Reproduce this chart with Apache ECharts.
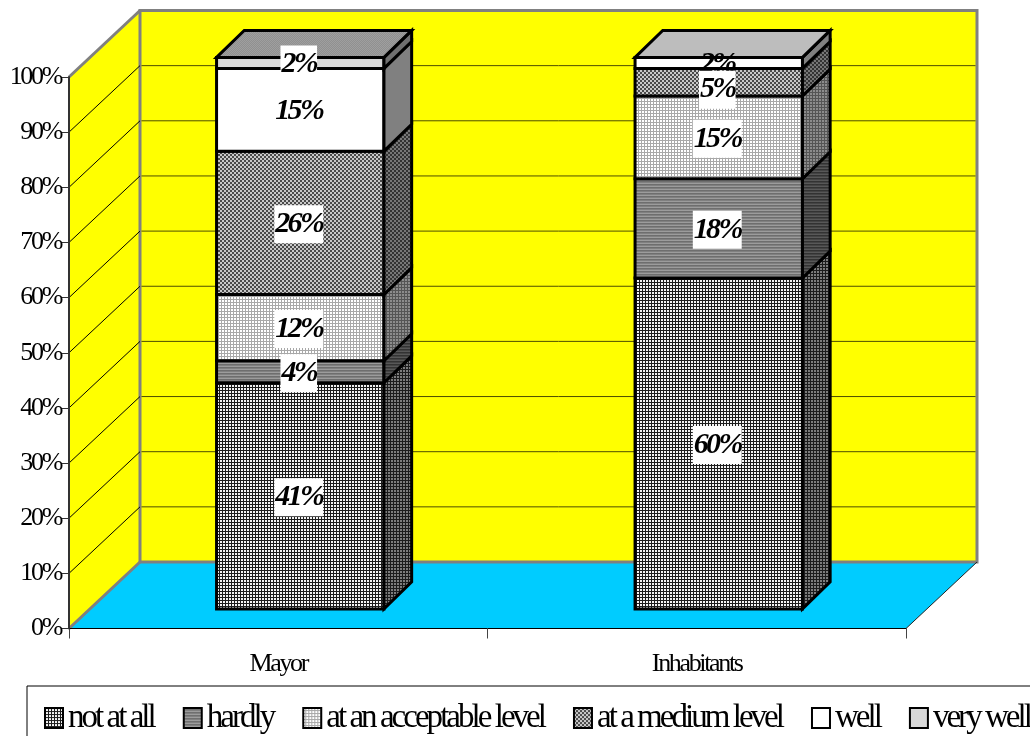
<!DOCTYPE html>
<html>
<head>
<meta charset="utf-8">
<style>html,body{margin:0;padding:0;background:#fff}#chart{width:1030px;height:736px}</style>
<script src="https://cdn.jsdelivr.net/npm/echarts@6/dist/echarts.min.js"></script>
</head>
<body>
<div id="chart"></div>
<script>
var categories = ['Mayor', 'Inhabitants'];
var levelNames = ['not at all', 'hardly', 'at an acceptable level', 'at a medium level', 'well', 'very well'];
var notAtAll = [41, 60];
var hardly = [4, 18];
var acceptable = [12, 15];
var medium = [26, 5];
var well = [15, 2];
var veryWell = [2, 0];
var yTicks = [10, 20, 30, 40, 50, 60, 70, 80, 90, 100];

// Tight text spacing, like the original's squeezed serif type.
var origGetContext = HTMLCanvasElement.prototype.getContext;
HTMLCanvasElement.prototype.getContext = function (type, o) {
  var ctx = origGetContext.call(this, type, o);
  if (type === '2d' && ctx && 'letterSpacing' in ctx) { ctx.letterSpacing = '-0.09em'; }
  return ctx;
};

function tile(rows, pal) {
  var c = document.createElement('canvas');
  c.width = rows[0].length; c.height = rows.length;
  var g = c.getContext('2d');
  rows.forEach(function (r, y) {
    r.split('').forEach(function (ch, x) { g.fillStyle = pal[ch]; g.fillRect(x, y, 1, 1); });
  });
  return { image: c, repeat: 'repeat' };
}
var check = ['kkww', 'kkww', 'wwkk', 'wwkk'];
var faces = [
  { front: tile(['kkk', 'kww', 'kww'], { k: '#1c1c1c', w: '#f4f4f4' }), side: tile(['kkk', 'kww', 'kww'], { k: '#1c1c1c', w: '#7c7c7c' }) },
  { front: tile(['a', 'b', 'c'], { a: '#9c9c9c', b: '#6e6e6e', c: '#808080' }), side: tile(['a', 'b', 'c'], { a: '#585858', b: '#333', c: '#444' }) },
  { front: tile(['wwg', 'wwg', 'ggg'], { w: '#fff', g: '#a8a8a8' }), side: tile(['mmd', 'mmd', 'ddd'], { m: '#8c8c8c', d: '#555' }) },
  { front: tile(check, { k: '#4a4a4a', w: '#c8c8c8' }), side: tile(check, { k: '#333333', w: '#777777' }) },
  { front: '#ffffff', side: '#808080' },
  { front: '#d8d8d8', side: '#707070' }
];
var topFaces = [tile(['ab', 'ba'], { a: '#9f9f9f', b: '#909090' }), '#bdbdbd'];

var WALL_DX = 71, WALL_DY = 66.5, GRAY = '#808080';
var BAR_NEAR_X = 0.31, BAR_NEAR_Y = 0.295, BAR_FAR = 0.70, BAR_WIDTH = 0.4;
var valueSets = [notAtAll, hardly, acceptable, medium, well, veryWell];

function line(p, q, color, w) {
  return { type: 'line', shape: { x1: p[0], y1: p[1], x2: q[0], y2: q[1] }, style: { stroke: color, lineWidth: w }, silent: true };
}
function poly(points, fill, stroke, w) {
  return { type: 'polygon', shape: { points: points }, style: { fill: fill, stroke: stroke, lineWidth: w, lineJoin: 'miter' }, silent: true };
}

function renderWalls(params, api) {
  var band = api.size([1, 0])[0];
  var base = api.coord([0, 0]);
  var x0 = base[0] - band / 2, x1 = x0 + band * categories.length;
  var y0 = base[1], yT = api.coord([0, 100])[1];
  var bx0 = x0 + WALL_DX, bx1 = x1 + WALL_DX;
  var children = [];
  if (params.dataIndex === 0) {
    children.push(poly([[x0, y0], [bx0, y0 - WALL_DY], [bx1, y0 - WALL_DY], [x1, y0]], '#00ccff', null, 0));
    children.push(poly([[x0, y0], [bx0, y0 - WALL_DY], [bx0, yT - WALL_DY], [x0, yT]], '#ffff00', null, 0));
    children.push(poly([[bx0, y0 - WALL_DY], [bx1, y0 - WALL_DY], [bx1, yT - WALL_DY], [bx0, yT - WALL_DY]], '#ffff00', GRAY, 3));
    children.push(line([x0, y0], [bx0, y0 - WALL_DY], GRAY, 3));
    children.push(line([x0, yT], [bx0, yT - WALL_DY], GRAY, 3));
    children.push(line([x1, y0], [bx1, y0 - WALL_DY], '#222', 1));
  }
  var v = api.value(1);
  if (v < 100) {
    var y = api.coord([0, v])[1];
    children.push(line([x0, y], [bx0, y - WALL_DY], '#000', 1));
    children.push(line([bx0 + 1.5, y - WALL_DY], [bx1 - 1.5, y - WALL_DY], '#4d4d00', 1));
  }
  return { type: 'group', children: children };
}

function renderLevel(level) {
  return function (params, api) {
    var cat = api.value(0), a = api.value(1), b = api.value(2);
    if (b <= a) { return { type: 'group', children: [] }; }
    var band = api.size([1, 0])[0];
    var c0 = api.coord([cat, a]), c1 = api.coord([cat, b]);
    var ox = WALL_DX * BAR_NEAR_X, oy = WALL_DY * BAR_NEAR_Y;
    var dx = WALL_DX * (BAR_FAR - BAR_NEAR_X), dy = WALL_DY * (BAR_FAR - BAR_NEAR_Y);
    var w = band * BAR_WIDTH;
    var l = c0[0] + ox - w / 2, r = l + w, yb = c0[1] - oy, yt = c1[1] - oy;
    var face = faces[level];
    var ch = [
      poly([[l, yb], [r, yb], [r, yt], [l, yt]], face.front, '#000', 3),
      poly([[r, yb], [r + dx, yb - dy], [r + dx, yt - dy], [r, yt]], face.side, '#000', 3)
    ];
    if (b >= 100) {
      ch.push(poly([[l, yt], [l + dx, yt - dy], [r + dx, yt - dy], [r, yt]], topFaces[cat], '#000', 3));
    }
    // the original places this one label a little low in its thin band
    var nudge = (level === 3 && cat === 1) ? 6 : 0;
    ch.push({
      type: 'text', silent: true, z2: 200 - level * 10,
      style: {
        text: Math.round(b - a) + '%', x: (l + r) / 2 - 1.5, y: (yb + yt) / 2 + nudge + 1.5,
        align: 'center', verticalAlign: 'middle',
        font: "italic bold 30px 'Liberation Serif'", fill: '#000',
        backgroundColor: level === 4 ? 'transparent' : '#fff',
        padding: [2, 1, 2, 1], lineHeight: 34
      }
    });
    return { type: 'group', children: ch };
  };
}

var series = [{
  type: 'custom', name: 'walls', z: 1, silent: true,
  data: yTicks.map(function (t) { return [0, t]; }),
  encode: { x: 0, y: 1 },
  renderItem: renderWalls
}];
var running = categories.map(function () { return 0; });
valueSets.forEach(function (vals, level) {
  var data = vals.map(function (v, i) {
    var row = [i, running[i], running[i] + v];
    running[i] += v;
    return row;
  });
  series.push({
    type: 'custom', name: levelNames[level], z: 2, silent: true,
    itemStyle: { color: faces[level].front },
    data: data, encode: { x: 0, y: [1, 2] },
    renderItem: renderLevel(level)
  });
});

var serif = "'Liberation Serif'";
var chart = echarts.init(document.getElementById('chart'), null, { renderer: 'canvas', width: 1030, height: 736 });
chart.setOption({
  animation: false,
  backgroundColor: '#fff',
  grid: { left: 69, right: 124, top: 77, bottom: 107.5 },
  xAxis: {
    type: 'category', data: categories, z: 10,
    axisLine: { lineStyle: { color: '#000', width: 1 } },
    axisTick: { show: true, length: 10, lineStyle: { color: '#444', width: 1 } },
    axisLabel: { fontFamily: serif, fontSize: 26, color: '#000', margin: 24 }
  },
  yAxis: {
    type: 'value', min: 0, max: 100, interval: 10, z: 10,
    axisLine: { show: true, lineStyle: { color: '#333', width: 2 } },
    axisTick: { show: true, length: 8, lineStyle: { color: '#333', width: 1 } },
    axisLabel: { fontFamily: serif, fontSize: 26, color: '#000', margin: 8, padding: [4, 0, 0, 0], formatter: '{value}%' },
    splitLine: { show: false }
  },
  legend: {
    left: 27, top: 686, width: 1040, padding: [17, 17, 17, 17],
    borderColor: '#000', borderWidth: 1, backgroundColor: '#fff',
    itemWidth: 18, itemHeight: 20, itemGap: 29,
    textStyle: { fontFamily: serif, fontSize: 33, color: '#000' },
    data: levelNames.map(function (n, i) {
      return { name: n, icon: 'rect', itemStyle: { color: faces[i].front, borderColor: '#000', borderWidth: 2 } };
    })
  },
  series: series
});
</script>
</body>
</html>
